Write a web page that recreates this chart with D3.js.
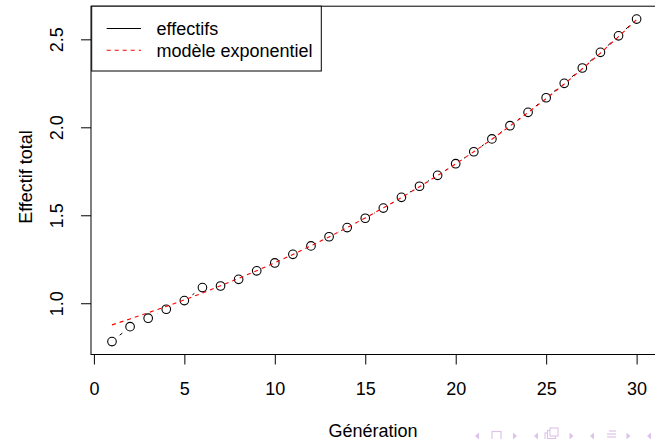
<!DOCTYPE html>
<html>
<head>
<meta charset="utf-8">
<script src="https://cdn.jsdelivr.net/npm/d3@7"></script>
<style>
  body { margin: 0; background: #fff; }
  svg { display: block; font-family: "Liberation Sans", Arial, Helvetica, sans-serif; }
</style>
</head>
<body>
<div id="chart"></div>
<script>
// generations and observed totals
const generations = d3.range(1, 31);
const effectifs = [0.782, 0.867, 0.915, 0.966, 1.015, 1.089, 1.098, 1.136, 1.184, 1.229,
                   1.278, 1.326, 1.378, 1.430, 1.483, 1.541, 1.602, 1.665, 1.727, 1.793,
                   1.861, 1.934, 2.009, 2.085, 2.168, 2.250, 2.337, 2.426, 2.520, 2.615];
// exponential model
const modele = [0.877, 0.911, 0.946, 0.982, 1.019, 1.058, 1.099, 1.141, 1.185, 1.230,
                1.277, 1.326, 1.377, 1.430, 1.485, 1.542, 1.601, 1.662, 1.726, 1.792,
                1.861, 1.932, 2.007, 2.084, 2.163, 2.246, 2.333, 2.422, 2.515, 2.612];
const xTicks = [0, 5, 10, 15, 20, 25, 30];
const yTicks = [1.0, 1.5, 2.0, 2.5];
const legendLabels = ["effectifs", "modèle exponentiel"];

const width = 655, height = 439;
const fs = 18;

const svg = d3.select("#chart").append("svg")
    .attr("width", width)
    .attr("height", height);

// R style 4% padding around data range
const xPad = (30 - 1) * 0.04;
const yMin = d3.min(effectifs), yMax = d3.max(effectifs);
const yPad = (yMax - yMin) * 0.04;

const x = d3.scaleLinear().domain([1 - xPad, 30 + xPad]).range([91, 657.6]);
const y = d3.scaleLinear().domain([yMin - yPad, yMax + yPad]).range([354.5, 6.2]);

// box
svg.append("rect")
    .attr("x", x.range()[0]).attr("y", y.range()[1])
    .attr("width", x.range()[1] - x.range()[0])
    .attr("height", y.range()[0] - y.range()[1])
    .attr("fill", "none").attr("stroke", "#000").attr("stroke-width", 1);

// x axis
const gx = svg.append("g")
    .attr("transform", "translate(0," + y.range()[0] + ")")
    .call(d3.axisBottom(x).tickValues(xTicks).tickSize(10).tickFormat(d3.format("d")));
gx.select(".domain").remove();
gx.selectAll("line").attr("stroke", "#000");
gx.selectAll("text")
    .attr("y", 40).attr("dy", 0)
    .attr("font-size", fs).attr("font-family", null).attr("fill", "#000");

// y axis
const gy = svg.append("g")
    .attr("transform", "translate(" + x.range()[0] + ",0)")
    .call(d3.axisLeft(y).tickValues(yTicks).tickSize(10).tickFormat(d3.format(".1f")));
gy.select(".domain").remove();
gy.selectAll("line").attr("stroke", "#000");
gy.selectAll("text")
    .attr("x", 0).attr("dy", 0)
    .attr("transform", "translate(-28.2,0) rotate(-90)")
    .attr("text-anchor", "middle")
    .attr("font-size", fs).attr("font-family", null).attr("fill", "#000");

// axis titles
svg.append("text")
    .attr("x", 373).attr("y", 437)
    .attr("text-anchor", "middle").attr("font-size", fs)
    .text("Génération");
svg.append("text")
    .attr("transform", "translate(31.5,177) rotate(-90)")
    .attr("text-anchor", "middle").attr("font-size", fs)
    .text("Effectif total");

// data
const pts = generations.map((g, i) => ({ g: g, v: effectifs[i] }));
const r = 4.3;
const gap = 10;

// black line with gaps at the points (type = "b")
const segs = d3.pairs(pts).map(([a, b]) => {
    const x1 = x(a.g), y1 = y(a.v), x2 = x(b.g), y2 = y(b.v);
    const len = Math.hypot(x2 - x1, y2 - y1);
    const ux = (x2 - x1) / len, uy = (y2 - y1) / len;
    return { x1: x1 + ux * gap, y1: y1 + uy * gap, x2: x2 - ux * gap, y2: y2 - uy * gap, ok: len > 2 * gap };
}).filter(s => s.ok);

svg.append("g").selectAll("line")
    .data(segs)
    .enter()
    .append("line")
    .attr("x1", d => d.x1).attr("y1", d => d.y1)
    .attr("x2", d => d.x2).attr("y2", d => d.y2)
    .attr("stroke", "#000").attr("stroke-width", 1);

svg.append("g").selectAll("circle")
    .data(pts)
    .enter()
    .append("circle")
    .attr("cx", d => x(d.g)).attr("cy", d => y(d.v))
    .attr("r", r)
    .attr("fill", "none").attr("stroke", "#000").attr("stroke-width", 1.1);

// model curve
const line = d3.line().x((d, i) => x(generations[i])).y(d => y(d));
svg.append("path")
    .datum(modele)
    .attr("d", line)
    .attr("fill", "none")
    .attr("stroke", "#ff0000")
    .attr("stroke-width", 1.1)
    .attr("stroke-dasharray", "4,4");

// legend
const legend = svg.append("g");
legend.append("rect")
    .attr("x", 91.7).attr("y", 6.2).attr("width", 229.6).attr("height", 64.8)
    .attr("fill", "#fff").attr("stroke", "#000").attr("stroke-width", 1);

const legItems = legend.selectAll(".legend")
    .data(legendLabels)
    .enter()
    .append("g")
    .attr("class", "legend")
    .attr("transform", (d, i) => "translate(0," + (28.5 + i * 21.7) + ")");

legItems.append("line")
    .attr("x1", 106.7).attr("x2", 141).attr("y1", 0).attr("y2", 0)
    .attr("stroke", (d, i) => i === 0 ? "#000" : "#ff0000")
    .attr("stroke-width", 1.1)
    .attr("stroke-dasharray", (d, i) => i === 0 ? null : "4,4");

legItems.append("text")
    .attr("x", 156.5).attr("y", 6.5)
    .attr("font-size", fs)
    .text(d => d);

// beamer navigation symbols (bottom right, partly cut)
const nav = svg.append("g").attr("fill", "#dcc3ea").attr("stroke", "#dcc3ea");
const navY = 436;
function triL(cx) {
    nav.append("path").attr("d", `M${cx + 2},${navY - 3.5} L${cx - 2},${navY} L${cx + 2},${navY + 3.5} Z`).attr("stroke", "none");
}
function triR(cx) {
    nav.append("path").attr("d", `M${cx - 2},${navY - 3.5} L${cx + 2},${navY} L${cx - 2},${navY + 3.5} Z`).attr("stroke", "none");
}
triL(477); triR(515);
nav.append("rect").attr("x", 492).attr("y", navY - 4.5).attr("width", 9).attr("height", 9).attr("fill", "none").attr("stroke-width", 1.2);
triL(536); triR(571.5);
[0, 1, 2].forEach(k => {
    nav.append("rect").attr("x", 545 + k * 2.5).attr("y", navY - 3 - k * 2.5).attr("width", 8).attr("height", 8)
        .attr("fill", "#fff").attr("stroke-width", 1.1);
});
triL(592); triR(628.5);
[0, 1, 2].forEach(k => {
    nav.append("line").attr("x1", 607 + (k === 0 ? 2 : 0)).attr("x2", 616).attr("y1", navY - 5 + k * 3).attr("y2", navY - 5 + k * 3).attr("stroke-width", 1.2);
});
triL(649);
</script>
</body>
</html>
